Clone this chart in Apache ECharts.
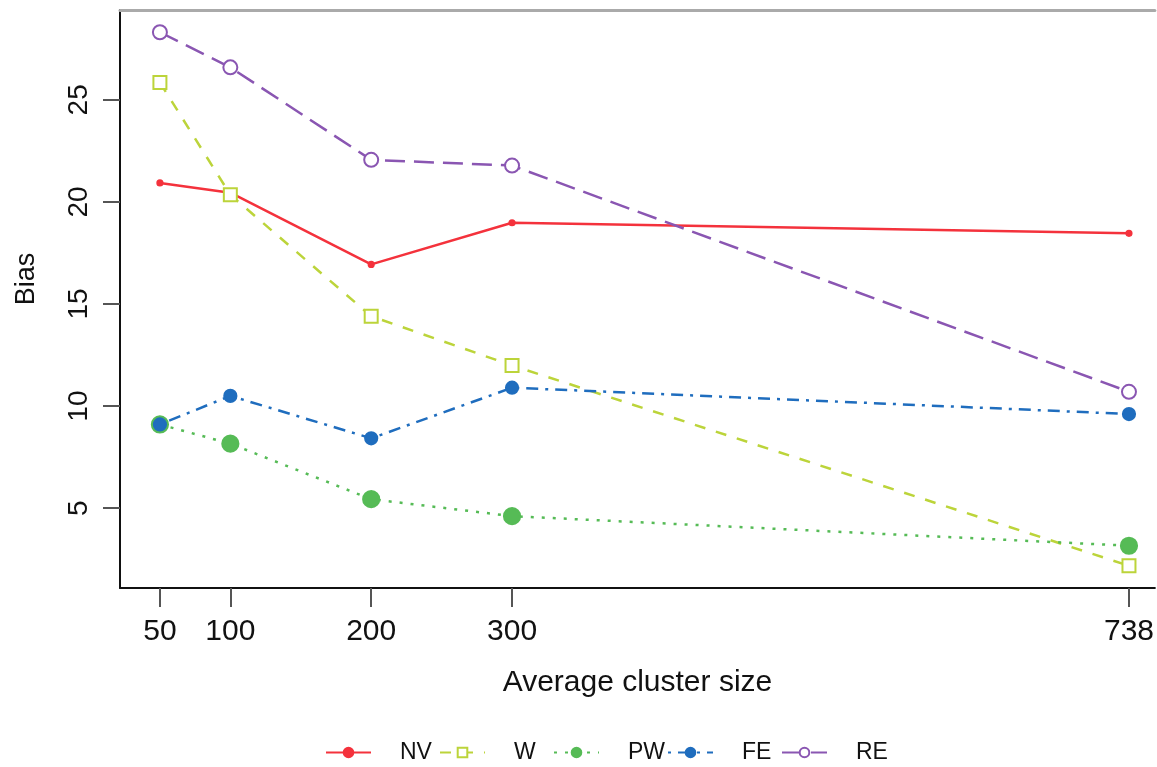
<!DOCTYPE html>
<html>
<head>
<meta charset="utf-8">
<script src="https://cdn.jsdelivr.net/npm/echarts@6/dist/echarts.min.js"></script>
<style>html,body{margin:0;padding:0;background:#fff;}#c{width:1157px;height:767px;}</style>
</head>
<body>
<div id="c"></div>
<script>
const clusterSizes = [50, 100, 200, 300, 738];
const xTicks = [50, 100, 200, 300, 738];
const yTicks = [5, 10, 15, 20, 25];
const seriesNames = ['NV', 'W', 'PW', 'FE', 'RE'];
const NV = [20.93, 20.45, 16.94, 18.98, 18.46];
const W  = [25.85, 20.35, 14.40, 11.99, 2.18];
const PW = [9.10, 8.16, 5.44, 4.61, 3.16];
const FE = [9.10, 10.50, 8.42, 10.90, 9.61];
const RE = [28.31, 26.59, 22.06, 21.78, 10.70];

const font = 'Liberation Sans, Arial, Helvetica, sans-serif';
const pair = v => clusterSizes.map((x, i) => [x, v[i]]);

const styles = {
  NV: {color: '#F4323C', type: 'solid', symbol: 'circle', size: 5},
  W:  {color: '#BCD43A', type: [11, 11], symbol: 'emptyRect', size: 13},
  PW: {color: '#56BB56', type: [3, 8], symbol: 'circle', size: 16},
  FE: {color: '#1F6DBE', type: [3, 7, 12, 7], symbol: 'circle', size: 12},
  RE: {color: '#8A56B2', type: [20, 9], symbol: 'emptyCircle', size: 14}
};
const dataMap = {NV, W, PW, FE, RE};

const legendStart = 325, legendCol = 114;
const legends = seriesNames.map((n, i) => ({
  bottom: 3, left: legendStart + i * legendCol, padding: 0,
  itemWidth: 45, itemHeight: 12, itemGap: 0,
  data: [n],
  textStyle: {fontFamily: font, fontSize: 23, color: '#111', padding: [0, 0, 0, 24]}
}));

const chart = echarts.init(document.getElementById('c'), null, {renderer: 'canvas'});
chart.setOption({
  animation: false,
  backgroundColor: '#fff',
  grid: {left: 120, top: 10, bottom: 179, right: 0, show: false},
  legend: legends,
  xAxis: [{
    type: 'value', min: 21.66, max: 756.4,
    name: 'Average cluster size', nameLocation: 'middle', nameGap: 80,
    nameTextStyle: {fontFamily: font, fontSize: 30, color: '#111'},
    axisLine: {show: true, lineStyle: {color: '#111', width: 2}},
    axisTick: {show: true, length: 19, customValues: xTicks, lineStyle: {color: '#555', width: 2}},
    axisLabel: {customValues: xTicks, fontFamily: font, fontSize: 30, color: '#111', margin: 29},
    splitLine: {show: false}
  }, {
    type: 'value', position: 'top', min: 21.66, max: 756.4,
    axisLine: {show: true, lineStyle: {color: '#aaa', width: 3}},
    axisTick: {show: false}, axisLabel: {show: false}, splitLine: {show: false}
  }],
  yAxis: {
    type: 'value', min: 1.09, max: 29.4,
    name: 'Bias', nameLocation: 'middle', nameGap: 80,
    nameTextStyle: {fontFamily: font, fontSize: 27, color: '#111', padding: [0, 0, 0, 40]},
    axisLine: {show: true, lineStyle: {color: '#111', width: 2}},
    axisTick: {show: true, length: 17, customValues: yTicks, lineStyle: {color: '#555', width: 2}},
    axisLabel: {customValues: yTicks, rotate: 90, fontFamily: font, fontSize: 28, color: '#111', margin: 27},
    splitLine: {show: false}
  },
  series: seriesNames.map(n => {
    const s = styles[n];
    return {
      name: n, type: 'line', data: pair(dataMap[n]), xAxisIndex: 0,
      symbol: s.symbol, symbolSize: s.size, showSymbol: true,
      lineStyle: {color: s.color, width: 2.5, type: s.type},
      itemStyle: {color: s.color, borderColor: s.color, borderWidth: 2.2},
      emphasis: {disabled: true}
    };
  })
});
</script>
</body>
</html>
